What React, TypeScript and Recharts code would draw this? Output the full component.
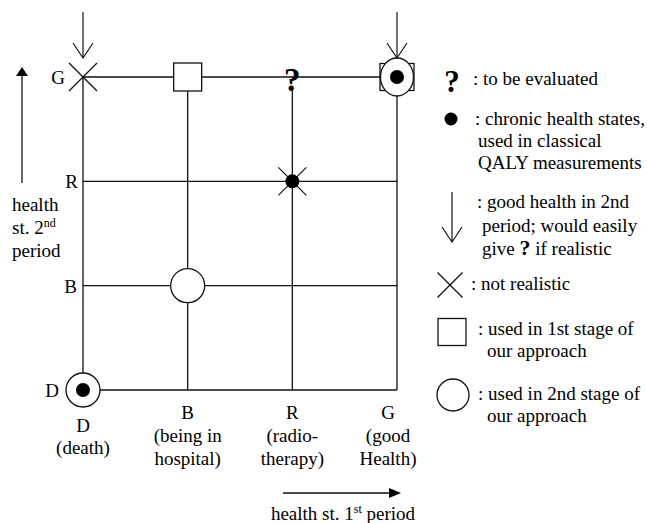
import { ScatterChart, Scatter, XAxis, YAxis, CartesianGrid, Legend } from 'recharts';

// health states, worst to best
const firstPeriod = ['D', 'B', 'R', 'G'];
const firstPeriodNotes = [['(death)'], ['(being in', 'hospital)'], ['(radio-', 'therapy)'], ['(good', 'Health)']];
const secondPeriod = ['D', 'B', 'R', 'G'];

// [1st period, 2nd period]
const toEvaluate = [['R', 'G']];
const chronicStates = [['G', 'G'], ['R', 'R'], ['D', 'D']];
const goodLater = [['D', 'G'], ['G', 'G']];
const notRealistic = [['D', 'G'], ['R', 'R']];
const stageOne = [['B', 'G'], ['G', 'G']];
const stageTwo = [['B', 'B'], ['G', 'G'], ['D', 'D']];

const evaluateNote = [': to be evaluated'];
const chronicNote = [': chronic health states,', 'used in classical', 'QALY measurements'];
const goodLaterNote = [': good health in 2nd', 'period; would easily', 'give ? if realistic'];
const notRealisticNote = [': not realistic'];
const stageOneNote = [': used in 1st stage of', 'our approach'];
const stageTwoNote = [': used in 2nd stage of', 'our approach'];

const FONT = '"Liberation Serif", "Times New Roman", Times, serif';
const INK = '#111';

const toPoints = (pairs: string[][]) =>
    pairs.map(([a, b]) => ({ x: firstPeriod.indexOf(a), y: secondPeriod.indexOf(b) }));

const stageTwoKeys = new Set(toPoints(stageTwo).map(p => `${p.x},${p.y}`));
const stageOneKeys = new Set(toPoints(stageOne).map(p => `${p.x},${p.y}`));

const SquareMark = (p: any) => {
    const combo = stageTwoKeys.has(`${p.payload.x},${p.payload.y}`);
    const w = combo ? 34 : 28;
    const h = combo ? 27 : 28;
    return <rect x={p.cx - w / 2} y={p.cy - h / 2} width={w} height={h} fill="#fff" stroke={INK} strokeWidth={1.3} />;
};

const CircleMark = (p: any) => {
    const combo = stageOneKeys.has(`${p.payload.x},${p.payload.y}`);
    return combo
        ? <ellipse cx={p.cx} cy={p.cy} rx={16.5} ry={19} fill="#fff" stroke={INK} strokeWidth={1.3} />
        : <circle cx={p.cx} cy={p.cy} r={17} fill="#fff" stroke={INK} strokeWidth={1.3} />;
};

const Cross = ({ cx, cy, s = 14 }: any) => (
    <g stroke={INK} strokeWidth={1.2}>
        <line x1={cx - s} y1={cy - s} x2={cx + s} y2={cy + s} />
        <line x1={cx - s} y1={cy + s} x2={cx + s} y2={cy - s} />
    </g>
);

const Dot = ({ cx, cy, r = 7 }: any) => <circle cx={cx} cy={cy} r={r} fill="#000" />;

const Question = (p: any) => (
    <g>
        <rect x={p.cx - 3} y={p.cy + 1} width={6} height={9} fill="#fff" />
        <text x={p.cx} y={p.cy + 14} textAnchor="middle" fontFamily={FONT} fontWeight="bold" fontSize={33} fill="#000">?</text>
    </g>
);

const DownArrow = ({ cx, top, tip }: any) => (
    <g stroke={INK} strokeWidth={1.2} fill="none">
        <line x1={cx} y1={top} x2={cx} y2={tip} />
        <polyline points={`${cx - 10},${tip - 15} ${cx},${tip} ${cx + 10},${tip - 15}`} />
    </g>
);

const ArrowMark = (p: any) => <DownArrow cx={p.cx} top={p.cy - 65} tip={p.cy - 19} />;

// label nudges so the letters clear the markers
const xTickShift: Record<string, { dx: number; dy: number }> = {
    D: { dx: 0, dy: 42 },
    B: { dx: 0, dy: 29 },
    R: { dx: 0, dy: 29 },
    G: { dx: -9, dy: 29 },
};
const yTickShift: Record<string, number> = { D: -24, B: -6, R: -5, G: -18 };

const XTick = ({ x, y, payload }: any) => {
    const i = payload.value;
    const name = firstPeriod[i];
    const s = xTickShift[name];
    return (
        <text x={x + s.dx} y={y + s.dy} textAnchor="middle" fontFamily={FONT} fontSize={19} fill="#000">
            <tspan x={x + s.dx}>{name}</tspan>
            {firstPeriodNotes[i].map((line, k) => (
                <tspan key={k} x={x + s.dx} dy={k === 0 && name === 'D' ? 22 : 23}>{line}</tspan>
            ))}
        </text>
    );
};

const YTick = ({ x, y, payload }: any) => {
    const name = secondPeriod[payload.value];
    return (
        <text x={x + yTickShift[name]} y={y + 7} textAnchor="end" fontFamily={FONT} fontSize={19} fill="#000">{name}</text>
    );
};

const YNote = ({ viewBox }: any) => {
    const { x, y } = viewBox;
    return (
        <g fontFamily={FONT} fontSize={19} fill="#000">
            <line x1={x + 22} y1={y + 106} x2={x + 22} y2={y - 2} stroke={INK} strokeWidth={1.3} />
            <polygon points={`${x + 16},${y - 1} ${x + 22},${y - 10} ${x + 28},${y - 1}`} fill="#000" />
            <text x={x + 12} y={y + 134}>health</text>
            <text x={x + 12} y={y + 157}>st. 2<tspan fontSize={12} dy={-7}>nd</tspan></text>
            <text x={x + 12} y={y + 180}>period</text>
        </g>
    );
};

const XNote = ({ viewBox }: any) => {
    const { x, y } = viewBox;
    return (
        <g fontFamily={FONT} fontSize={19} fill="#000">
            <line x1={x + 200} y1={y + 103} x2={x + 308} y2={y + 103} stroke={INK} strokeWidth={1.3} />
            <polygon points={`${x + 306},${y + 98} ${x + 318},${y + 103} ${x + 306},${y + 108}`} fill="#000" />
            <text x={x + 260} y={y + 130} textAnchor="middle">
                health st. 1<tspan fontSize={12} dy={-7}>st</tspan><tspan dy={7}> period</tspan>
            </text>
        </g>
    );
};

const NoteLines = ({ lines, x, xNext, y }: { lines: string[]; x: number; xNext: number; y: number[] }) => (
    <g fontFamily={FONT} fontSize={19} fill="#000">
        {lines.map((line, k) => {
            const parts = line.split('?');
            return (
                <text key={k} x={k === 0 ? x : xNext} y={y[k]}>
                    {parts.length > 1
                        ? <>{parts[0]}<tspan fontWeight="bold" fontSize={22}>?</tspan>{parts[1]}</>
                        : line}
                </text>
            );
        })}
    </g>
);

const legendRows: Record<string, (key: string) => any> = {
    evaluate: key => (
        <g key={key}>
            <text x={452} y={92} textAnchor="middle" fontFamily={FONT} fontWeight="bold" fontSize={31}>?</text>
            <NoteLines lines={evaluateNote} x={473} xNext={473} y={[85]} />
        </g>
    ),
    chronic: key => (
        <g key={key}>
            <Dot cx={451} cy={119} r={6.5} />
            <NoteLines lines={chronicNote} x={475} xNext={478} y={[125, 147, 169]} />
        </g>
    ),
    goodLater: key => (
        <g key={key}>
            <DownArrow cx={452} top={192} tip={242} />
            <NoteLines lines={goodLaterNote} x={477} xNext={482} y={[208, 232, 255]} />
        </g>
    ),
    notRealistic: key => (
        <g key={key}>
            <Cross cx={450} cy={285} s={12.5} />
            <NoteLines lines={notRealisticNote} x={471} xNext={471} y={[290]} />
        </g>
    ),
    stageOne: key => (
        <g key={key}>
            <rect x={438} y={318.5} width={28} height={27} fill="#fff" stroke={INK} strokeWidth={1.3} />
            <NoteLines lines={stageOneNote} x={478} xNext={487} y={[335, 357]} />
        </g>
    ),
    stageTwo: key => (
        <g key={key}>
            <circle cx={453} cy={395} r={16} fill="#fff" stroke={INK} strokeWidth={1.3} />
            <NoteLines lines={stageTwoNote} x={478} xNext={487} y={[400, 422]} />
        </g>
    ),
};
const legendOrder = ['evaluate', 'chronic', 'goodLater', 'notRealistic', 'stageOne', 'stageTwo'];

const LegendBox = ({ payload }: any) => {
    const names = (payload || []).map((p: any) => p.value);
    const rows = names.length ? legendOrder.filter(n => names.includes(n)) : legendOrder;
    return (
        <svg width={647} height={523} style={{ display: 'block', overflow: 'visible' }}>
            {rows.map(n => legendRows[n](n))}
        </svg>
    );
};

export default function App() {
    return (
        <div style={{ position: 'absolute', left: 0, top: 0, background: '#fff' }}>
            <ScatterChart width={647} height={523} margin={{ top: 77, right: 250, bottom: 0, left: 0 }}>
                <CartesianGrid stroke={INK} strokeWidth={1.3} />
                <XAxis
                    type="number"
                    dataKey="x"
                    domain={[0, 3]}
                    ticks={[0, 1, 2, 3]}
                    height={133}
                    axisLine={false}
                    tickLine={false}
                    tickSize={0}
                    tickMargin={0}
                    tick={<XTick />}
                    label={{ content: (props: any) => <XNote {...props} /> }}
                />
                <YAxis
                    type="number"
                    dataKey="y"
                    domain={[0, 3]}
                    ticks={[0, 1, 2, 3]}
                    width={83}
                    axisLine={false}
                    tickLine={false}
                    tickSize={0}
                    tickMargin={0}
                    tick={<YTick />}
                    label={{ content: (props: any) => <YNote {...props} /> }}
                />
                <Legend
                    layout="vertical"
                    align="center"
                    verticalAlign="middle"
                    wrapperStyle={{ left: 0, top: 0, width: 647, height: 523, pointerEvents: 'none' }}
                    content={<LegendBox />}
                />
                <Scatter name="stageOne" data={toPoints(stageOne)} shape={SquareMark} isAnimationActive={false} />
                <Scatter name="stageTwo" data={toPoints(stageTwo)} shape={CircleMark} isAnimationActive={false} />
                <Scatter name="notRealistic" data={toPoints(notRealistic)} shape={(p: any) => <Cross cx={p.cx} cy={p.cy} />} isAnimationActive={false} />
                <Scatter name="chronic" data={toPoints(chronicStates)} shape={(p: any) => <Dot cx={p.cx} cy={p.cy} />} isAnimationActive={false} />
                <Scatter name="evaluate" data={toPoints(toEvaluate)} shape={Question} isAnimationActive={false} />
                <Scatter name="goodLater" data={toPoints(goodLater)} shape={ArrowMark} isAnimationActive={false} />
            </ScatterChart>
        </div>
    );
}
